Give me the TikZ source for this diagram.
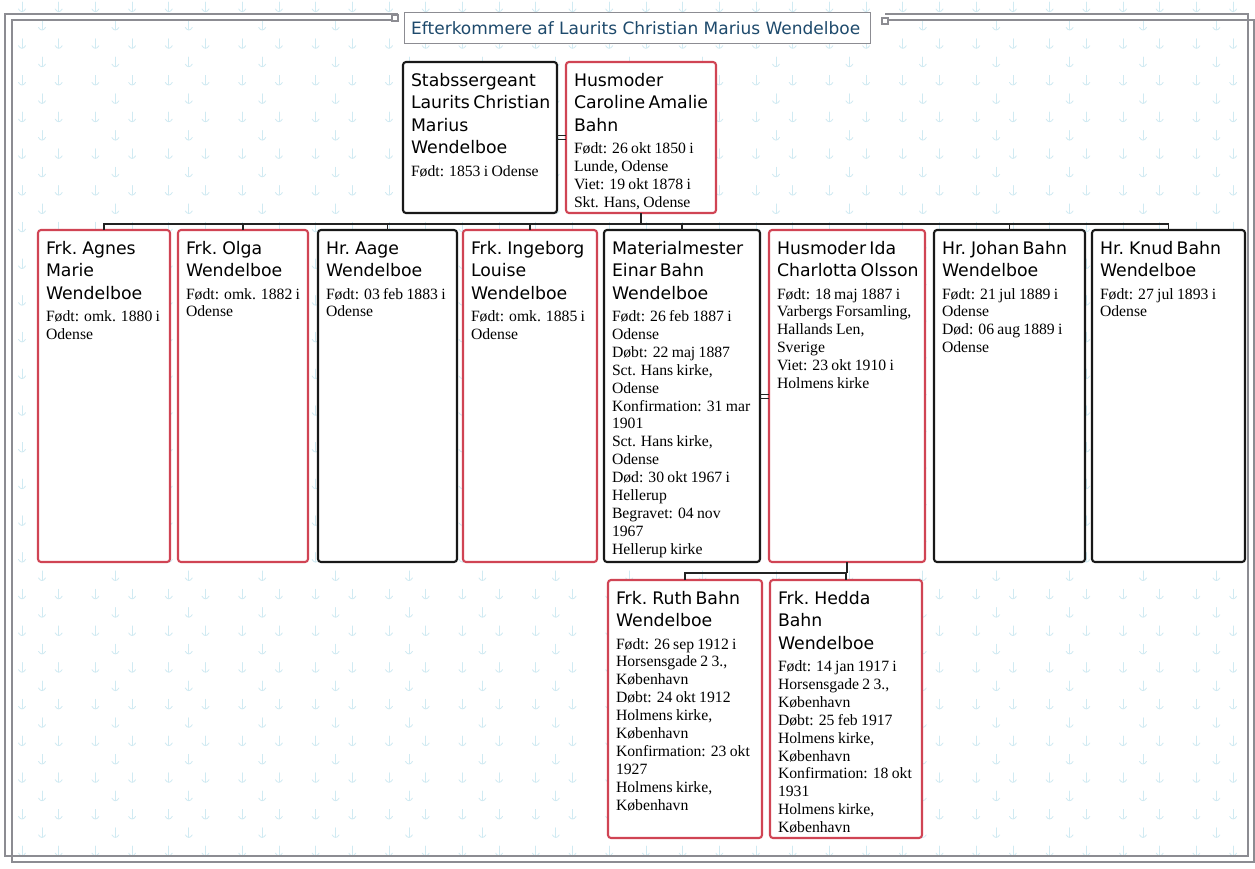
\documentclass[tikz,border=0pt]{standalone}
\usepackage{fontspec}
\newfontfamily\namefont{DejaVu Sans}
\newfontfamily\detfont{Liberation Serif}
\definecolor{redbox}{RGB}{208,68,84}
\definecolor{blackbox}{RGB}{24,24,24}
\definecolor{linec}{RGB}{34,34,34}
\definecolor{framegray}{RGB}{140,140,146}
\definecolor{titleblue}{RGB}{30,74,108}
\definecolor{bgmarkc}{RGB}{208,234,242}
\newcommand\namef{\namefont\fontsize{17.3pt}{22.5pt}\selectfont}
\newcommand\detf{\detfont\fontsize{15.7pt}{17.9pt}\selectfont}
\tikzset{
  pbox/.style={draw, fill=white, rounded corners=3pt, line width=2.1pt, inner sep=0pt, outer sep=0pt, anchor=north west},
  ptext/.style={anchor=north west, inner sep=0pt, outer sep=0pt, text width=220pt, align=left},
  conn/.style={draw=linec, line width=1.9pt},
  frameline/.style={draw=framegray, line width=1.4pt},
  bgmk/.style={draw=bgmarkc, line width=0.8pt, line cap=round},
  bgm/.pic={\draw[bgmk] (0,-6) -- (0,3); \draw[bgmk] (-3.5,1) .. controls (-1.5,4.5) and (1.5,4.5) .. (3.5,1);},
  titlebox/.style={draw=framegray, line width=1.4pt, fill=white, inner sep=0pt, anchor=north west},
  titletext/.style={anchor=west, inner sep=0pt, text=titleblue, font=\namefont\fontsize{17pt}{20pt}\selectfont},
}
% #1 name, #2 x, #3 y, #4 w, #5 h, #6 colour, #7 name lines, #8 detail lines
\newcommand\personbox[8]{%
  \node[pbox, draw=#6, minimum width=#4pt, minimum height=#5pt] (#1) at (#2,#3) {};
  \node[ptext] (#1-txt) at ([xshift=8pt,yshift=-7pt]#1.north west)
    {\parindent0pt\rule{0pt}{17pt}\namef #7\par\vskip4.6pt\detf #8\par};
}
\begin{document}
\begin{tikzpicture}[x=1pt,y=-1pt]
\fill[white] (0,0) rectangle (1255,868);
\useasboundingbox (0,0) rectangle (1255,868);
% background pattern
\foreach \i in {0,...,34}{\foreach \j in {0,...,23}{\pic at ({22+36.7*\i},{8+36.7*\j}) {bgm};}}
\foreach \i in {0,...,16}{\foreach \j in {0,...,22}{\pic at ({42+73.4*\i},{26.4+36.7*\j}) {bgm};}}
% frame
\draw[frameline] (398,14) -- (5,14) -- (5,856) -- (1248,856) -- (1248,14) -- (885,14);
\draw[frameline] (398,20) -- (12,20) -- (12,862) -- (1254,862) -- (1254,20) -- (885,20);
\draw[frameline, fill=white] (392,15) rectangle (398,21);
\draw[frameline, fill=white] (882,18) rectangle (888,24);
% title
\node[titlebox, minimum width=466pt, minimum height=31pt] (title) at (404,12) {};
\node[titletext] (title-txt) at ([xshift=7pt]title.west) {Efterkommere af Laurits Christian Marius Wendelboe};
% parents
\personbox{husband}{403}{62}{154}{151}{blackbox}{Stabssergeant\\Laurits Christian\\Marius\\Wendelboe}{Født: 1853 i Odense}
\personbox{wife}{566}{62}{150}{151}{redbox}{Husmoder\\Caroline Amalie\\Bahn}{Født: 26 okt 1850 i\\Lunde, Odense\\Viet: 19 okt 1878 i\\Skt. Hans, Odense}
% children
\personbox{agnes}{38}{230}{132}{332}{redbox}{Frk. Agnes\\Marie\\Wendelboe}{Født: omk. 1880 i\\Odense}
\personbox{olga}{178}{230}{130}{332}{redbox}{Frk. Olga\\Wendelboe}{Født: omk. 1882 i\\Odense}
\personbox{aage}{318}{230}{139}{332}{blackbox}{Hr. Aage\\Wendelboe}{Født: 03 feb 1883 i\\Odense}
\personbox{ingeborg}{463}{230}{134}{332}{redbox}{Frk. Ingeborg\\Louise\\Wendelboe}{Født: omk. 1885 i\\Odense}
\personbox{einar}{604}{230}{156}{332}{blackbox}{Materialmester\\Einar Bahn\\Wendelboe}{Født: 26 feb 1887 i\\Odense\\Døbt: 22 maj 1887\\Sct. Hans kirke,\\Odense\\Konfirmation: 31 mar\\1901\\Sct. Hans kirke,\\Odense\\Død: 30 okt 1967 i\\Hellerup\\Begravet: 04 nov\\1967\\Hellerup kirke}
\personbox{ida}{769}{230}{156}{332}{redbox}{Husmoder Ida\\Charlotta Olsson}{Født: 18 maj 1887 i\\Varbergs Forsamling,\\Hallands Len,\\Sverige\\Viet: 23 okt 1910 i\\Holmens kirke}
\personbox{johan}{934}{230}{151}{332}{blackbox}{Hr. Johan Bahn\\Wendelboe}{Født: 21 jul 1889 i\\Odense\\Død: 06 aug 1889 i\\Odense}
\personbox{knud}{1092}{230}{153}{332}{blackbox}{Hr. Knud Bahn\\Wendelboe}{Født: 27 jul 1893 i\\Odense}
% grandchildren
\personbox{ruth}{608}{580}{154}{258}{redbox}{Frk. Ruth Bahn\\Wendelboe}{Født: 26 sep 1912 i\\Horsensgade 2 3.,\\København\\Døbt: 24 okt 1912\\Holmens kirke,\\København\\Konfirmation: 23 okt\\1927\\Holmens kirke,\\København}
\personbox{hedda}{770}{580}{152}{258}{redbox}{Frk. Hedda\\Bahn\\Wendelboe}{Født: 14 jan 1917 i\\Horsensgade 2 3.,\\København\\Døbt: 25 feb 1917\\Holmens kirke,\\København\\Konfirmation: 18 okt\\1931\\Holmens kirke,\\København}
% marriage signs
\draw[conn, line width=1pt] ([yshift=2pt]husband.east) -- ([yshift=2pt]husband.east -| wife.west);
\draw[conn, line width=1pt] ([yshift=-2pt]husband.east) -- ([yshift=-2pt]husband.east -| wife.west);
\draw[conn, line width=1pt] ([yshift=2pt]einar.east) -- ([yshift=2pt]einar.east -| ida.west);
\draw[conn, line width=1pt] ([yshift=-2pt]einar.east) -- ([yshift=-2pt]einar.east -| ida.west);
% descent lines
\coordinate (bar1) at (0,224);
\draw[conn] (wife.south) -- (wife.south |- bar1);
\draw[conn, line cap=rect] (agnes.north |- bar1) -- (knud.north |- bar1);
\foreach \c in {agnes,olga,aage,ingeborg,einar,johan,knud}{\draw[conn] (\c.north) -- (\c.north |- bar1);}
\coordinate (bar2) at (0,573);
\draw[conn] (ida.south) -- (ida.south |- bar2);
\draw[conn, line cap=rect] (ruth.north |- bar2) -- (hedda.north |- bar2);
\foreach \c in {ruth,hedda}{\draw[conn] (\c.north) -- (\c.north |- bar2);}
\end{tikzpicture}
\end{document}
